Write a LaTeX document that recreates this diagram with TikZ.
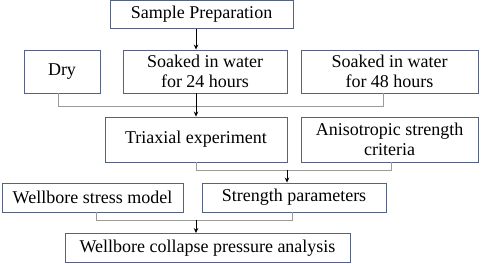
\documentclass[tikz,border=0pt]{standalone}
\usepackage{fontspec}
\setmainfont{Liberation Serif}
\usetikzlibrary{arrows.meta,calc}
\definecolor{boxc}{HTML}{56627F}
\definecolor{linec}{HTML}{9A9A9A}
\tikzset{
  box/.style={draw=boxc,line width=0.9pt,inner sep=0pt,align=center,font=\fontsize{18}{20}\selectfont},
  conn/.style={draw=linec,line width=1pt},
  arr/.style={draw=black,line width=0.8pt,-{Stealth[length=5pt,width=4.5pt]}}
}
\begin{document}
\begin{tikzpicture}[x=1pt,y=-1pt]
\useasboundingbox (0,0) rectangle (484,263);
\node[box,minimum width=183pt,minimum height=27.5pt] (SP) at (201.5,14.5) {Sample Preparation};
\node[box,minimum width=76pt,minimum height=43pt] (Dry) at (62,71.5) {Dry};
\node[box,minimum width=164pt,minimum height=43pt] (S24) at (205,71.5) {Soaked in water\\for 24 hours};
\node[box,minimum width=177pt,minimum height=43pt] (S48) at (389.5,71.5) {Soaked in water\\for 48 hours};
\node[box,minimum width=182pt,minimum height=45pt] (Tri) at (196,139.5) {Triaxial experiment};
\node[box,minimum width=177pt,minimum height=45pt] (Ani) at (389.5,139.5) {Anisotropic strength\\criteria};
\node[box,minimum width=181pt,minimum height=29pt] (WSM) at (92.5,197.5) {Wellbore stress model};
\node[box,minimum width=184pt,minimum height=29pt] (SPar) at (294,197.5) {Strength parameters};
\node[box,minimum width=285pt,minimum height=29pt] (WCP) at (207.5,248) {Wellbore collapse pressure analysis};
% connectors
\coordinate (j1) at (0,106);
\coordinate (j2) at (0,170);
\coordinate (j3) at (0,220);
\draw[conn] ([xshift=-4pt]Dry.south) |- ([xshift=-6pt]S48.south |- j1) -- ([xshift=-6pt]S48.south);
\draw[conn] (Tri.south) |- ([xshift=1.5pt]Ani.south |- j2) -- ([xshift=1.5pt]Ani.south);
\draw[conn] ([xshift=4pt]WSM.south) |- ([xshift=-2pt]SPar.south |- j3) -- ([xshift=-2pt]SPar.south);
% arrows
\draw[arr] (SP.south -| Tri) -- (S24.north -| Tri);
\draw[arr] (S24.south -| Tri) -- (Tri.north);
\draw[arr] ([xshift=-7pt]SPar.north |- j2) -- ([xshift=-7pt]SPar.north);
\draw[arr] (Tri |- j3) -- (WCP.north -| Tri);
\end{tikzpicture}
\end{document}
